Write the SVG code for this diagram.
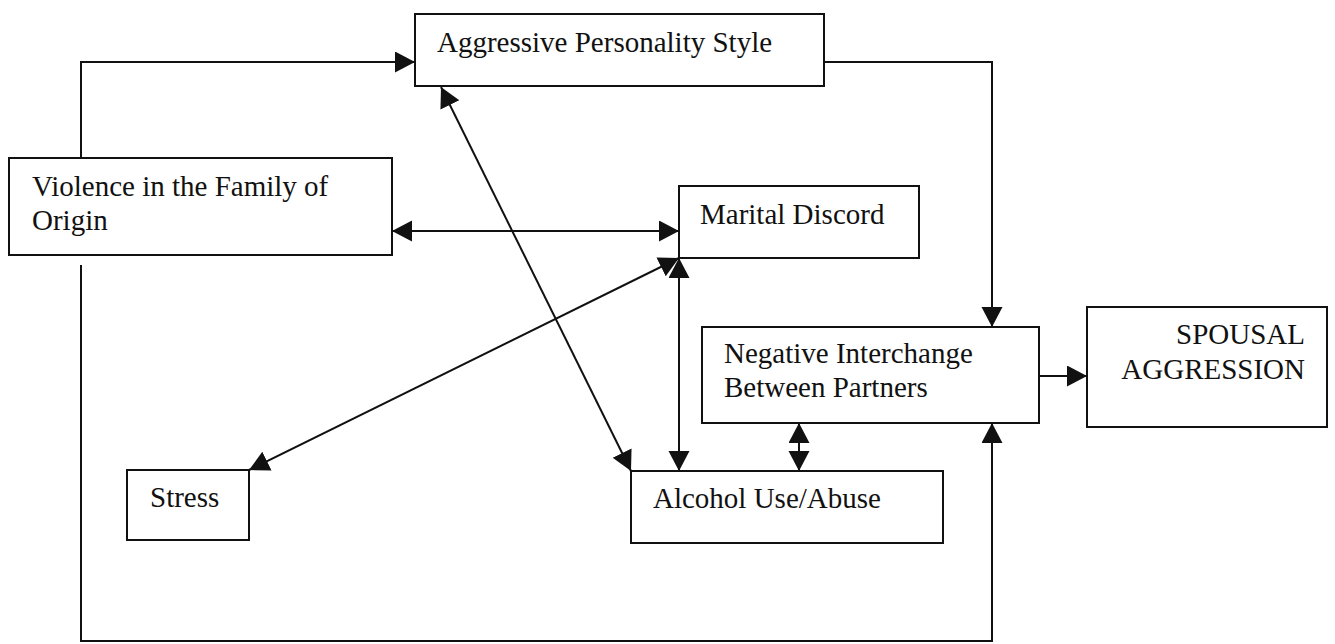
<svg xmlns="http://www.w3.org/2000/svg" width="1335" height="644" viewBox="0 0 1335 644">
<style>
.box{fill:#fff;stroke:#111;stroke-width:2}
.lbl{font-family:"Liberation Serif","Times New Roman",serif;font-size:29px;fill:#111}
.c{fill:none;stroke:#111;stroke-width:2}
.a{marker-end:url(#ah)}
.b{marker-start:url(#ah);marker-end:url(#ah)}
</style>
<defs>
<marker id="ah" markerUnits="userSpaceOnUse" markerWidth="22" markerHeight="22" refX="20" refY="10.5" orient="auto-start-reverse">
<path d="M0,0 L20,10.5 L0,21 z" fill="#111"/>
</marker>
</defs>
<rect width="1335" height="644" fill="#fff"/>
<g id="connectors">
<path class="c a" d="M81,158 V62 H415"/>
<path class="c a" d="M824,62 H992 V327"/>
<path class="c b" d="M392,231 H679"/>
<path class="c b" d="M441,87 L631,471"/>
<path class="c b" d="M249,470 L679,258"/>
<path class="c b" d="M679,258 V471"/>
<path class="c b" d="M799,423 V471"/>
<path class="c a" d="M81,265 V641 H992 V423"/>
<path class="c a" d="M1039,376 H1087"/>
</g>
<g id="aggressive">
<rect class="box" x="415" y="14" width="409" height="72"/>
<text class="lbl" x="437" y="52">Aggressive Personality Style</text>
</g>
<g id="violence">
<rect class="box" x="9" y="158" width="383" height="97"/>
<text class="lbl" x="32" y="196">Violence in the Family of</text>
<text class="lbl" x="32" y="230">Origin</text>
</g>
<g id="marital">
<rect class="box" x="679" y="186" width="240" height="72"/>
<text class="lbl" x="700" y="224">Marital Discord</text>
</g>
<g id="negative">
<rect class="box" x="702" y="327" width="337" height="96"/>
<text class="lbl" x="724" y="363">Negative Interchange</text>
<text class="lbl" x="724" y="397">Between Partners</text>
</g>
<g id="spousal">
<rect class="box" x="1087" y="307" width="240" height="120"/>
<text class="lbl" x="1305" y="344" text-anchor="end">SPOUSAL</text>
<text class="lbl" x="1305" y="379" text-anchor="end">AGGRESSION</text>
</g>
<g id="stress">
<rect class="box" x="127" y="470" width="122" height="70"/>
<text class="lbl" x="150" y="507">Stress</text>
</g>
<g id="alcohol">
<rect class="box" x="631" y="471" width="312" height="72"/>
<text class="lbl" x="653" y="508">Alcohol Use/Abuse</text>
</g>
</svg>
